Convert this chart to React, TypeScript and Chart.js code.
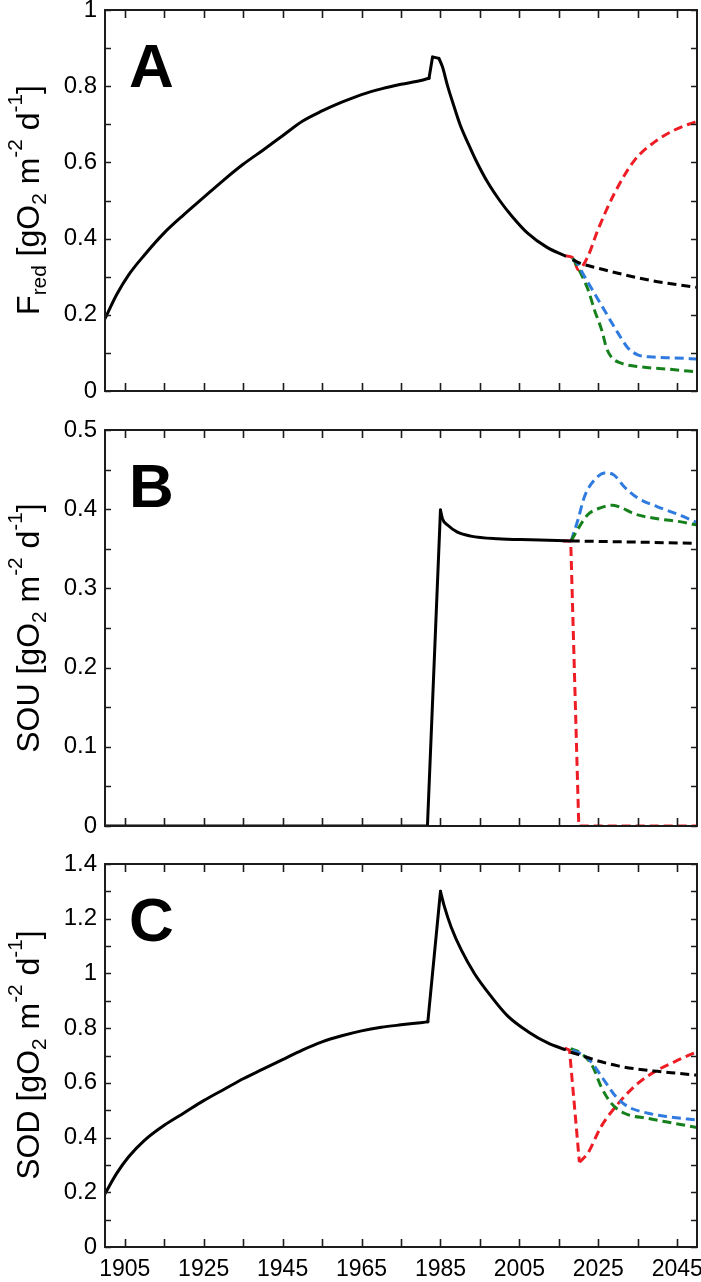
import React, { useEffect, useRef } from "react";
import { Chart, registerables } from "chart.js";

Chart.register(...registerables);

const FONT = "'Liberation Sans', Arial, Helvetica, sans-serif";

// ---------- shared x axis ----------
const X_MIN = 1900;
const X_MAX = 2050;
const xTickYears = [1905, 1915, 1925, 1935, 1945, 1955, 1965, 1975, 1985, 1995, 2005, 2015, 2025, 2035, 2045];
const xLabelYears = [1905, 1925, 1945, 1965, 1985, 2005, 2025, 2045];

// ---------- panel A : F_red ----------
const aYTicks = [0, 0.1, 0.2, 0.3, 0.4, 0.5, 0.6, 0.7, 0.8, 0.9, 1];
const aYLabels = [0, 0.2, 0.4, 0.6, 0.8, 1];
const aGrowthYears = [1900, 1903, 1906, 1910, 1915, 1920, 1925, 1930, 1935, 1940, 1945, 1950, 1955, 1960, 1965, 1970, 1975, 1980, 1982.1];
const aGrowth = [0.19, 0.254, 0.305, 0.357, 0.415, 0.463, 0.508, 0.553, 0.595, 0.632, 0.67, 0.708, 0.735, 0.758, 0.778, 0.793, 0.805, 0.815, 0.821];
const aPulseYears = [1982.1, 1983, 1984.6];
const aPulse = [0.821, 0.877, 0.873];
const aDecayYears = [1984.6, 1985.5, 1986.8, 1988.4, 1990, 1992, 1994, 1997, 2000, 2003, 2007, 2012, 2016.5];
const aDecay = [0.873, 0.851, 0.801, 0.748, 0.698, 0.65, 0.605, 0.547, 0.5, 0.46, 0.415, 0.377, 0.355];
const aBaseYears = [2018.5, 2020, 2025, 2030, 2035, 2040, 2045, 2050];
const aBase = [0.345, 0.337, 0.322, 0.309, 0.297, 0.287, 0.279, 0.272];
const aRedYears = [2016.5, 2018.6, 2019.9, 2022.3, 2024.9, 2029.1, 2034.2, 2039.3, 2044.3, 2050];
const aRed = [0.355, 0.349, 0.318, 0.352, 0.423, 0.519, 0.606, 0.654, 0.685, 0.708];
const aBlueYears = [2018.5, 2019.5, 2021, 2022.5, 2025, 2027.5, 2030, 2032.5, 2035, 2039, 2044, 2050];
const aBlue = [0.345, 0.338, 0.31, 0.283, 0.239, 0.195, 0.152, 0.113, 0.095, 0.089, 0.087, 0.084];
const aGreenYears = [2018.5, 2020.5, 2022.5, 2024, 2026, 2027, 2028.3, 2030.8, 2036, 2043, 2050];
const aGreen = [0.349, 0.31, 0.263, 0.213, 0.155, 0.115, 0.089, 0.073, 0.063, 0.057, 0.05];

// ---------- panel B : SOU ----------
const bYTicks = [0, 0.05, 0.1, 0.15, 0.2, 0.25, 0.3, 0.35, 0.4, 0.45, 0.5];
const bYLabels = [0, 0.1, 0.2, 0.3, 0.4, 0.5];
const bZeroYears = [1900, 1981.7];
const bZero = [0, 0];
const bRiseYears = [1981.7, 1985];
const bRise = [0, 0.399];
const bDecayYears = [1985, 1985.5, 1986.8, 1989.3, 1992.7, 1999.5, 2007.9, 2018];
const bDecay = [0.399, 0.388, 0.38, 0.371, 0.366, 0.3626, 0.3613, 0.36];
const bBaseYears = [2018, 2050];
const bBase = [0.36, 0.357];
const bRedYears = [2016, 2018, 2020.05, 2050];
const bRed = [0.36, 0.36, 0, 0];
const bBlueYears = [2018.1, 2019.8, 2021.5, 2024, 2027, 2029, 2031.6, 2035, 2040, 2046, 2050];
const bBlue = [0.36, 0.386, 0.416, 0.437, 0.446, 0.443, 0.428, 0.414, 0.403, 0.392, 0.383];
const bGreenYears = [2018.1, 2020.2, 2022.3, 2025.7, 2028.7, 2030.8, 2034.2, 2040, 2046, 2050];
const bGreen = [0.36, 0.378, 0.393, 0.402, 0.405, 0.402, 0.394, 0.388, 0.384, 0.38];

// ---------- panel C : SOD ----------
const cYTicks = [0, 0.1, 0.2, 0.3, 0.4, 0.5, 0.6, 0.7, 0.8, 0.9, 1, 1.1, 1.2, 1.3, 1.4];
const cYLabels = [0, 0.2, 0.4, 0.6, 0.8, 1, 1.2, 1.4];
const cGrowthYears = [1900, 1903, 1906, 1910, 1915, 1920, 1925, 1930, 1935, 1940, 1945, 1950, 1955, 1960, 1965, 1970, 1975, 1980, 1981.8];
const cGrowth = [0.195, 0.27, 0.33, 0.39, 0.445, 0.49, 0.535, 0.575, 0.615, 0.65, 0.685, 0.72, 0.75, 0.772, 0.79, 0.803, 0.812, 0.82, 0.823];
const cRiseYears = [1981.8, 1985];
const cRise = [0.823, 1.3];
const cDecayYears = [1985, 1986, 1987.7, 1990.3, 1993.6, 1997.9, 2002, 2007.2, 2012.3, 2016.5];
const cDecay = [1.3, 1.244, 1.17, 1.085, 1.0, 0.915, 0.845, 0.787, 0.745, 0.722];
const cBaseYears = [2018, 2020, 2025, 2030, 2035, 2040, 2045, 2050];
const cBase = [0.712, 0.703, 0.68, 0.662, 0.65, 0.642, 0.635, 0.628];
const cRedDropYears = [2016.5, 2017.7, 2020.2];
const cRedDrop = [0.727, 0.72, 0.31];
const cRedRiseYears = [2020.2, 2022.3, 2025.7, 2030.8, 2035, 2039.3, 2044.3, 2050];
const cRedRise = [0.31, 0.342, 0.44, 0.537, 0.598, 0.641, 0.677, 0.714];
const cBlueYears = [2018.5, 2022.3, 2024.4, 2027, 2029.5, 2032.5, 2037.6, 2042.7, 2050];
const cBlue = [0.72, 0.69, 0.653, 0.598, 0.549, 0.513, 0.489, 0.476, 0.464];
const cGreenYears = [2018, 2020.6, 2023.6, 2025.7, 2028.3, 2031.6, 2037.6, 2043.5, 2050];
const cGreen = [0.725, 0.708, 0.659, 0.586, 0.525, 0.489, 0.47, 0.454, 0.437];

// ---------- styles ----------
const RED = "#ee1c24";
const BLUE = "#2f7be0";
const GREEN = "#16801c";
const BLACK = "#000000";

const pts = (xs: number[], ys: number[]) => xs.map((x, i) => ({ x, y: ys[i] }));

const solid = (xs: number[], ys: number[], smooth = true) => ({
  data: pts(xs, ys),
  borderColor: BLACK,
  borderWidth: 3,
  pointRadius: 0,
  fill: false,
  tension: 0,
  cubicInterpolationMode: smooth ? "monotone" : "default",
  borderCapStyle: "round",
  borderJoinStyle: "round",
});

const dashed = (xs: number[], ys: number[], color: string, smooth = true) => ({
  data: pts(xs, ys),
  borderColor: color,
  borderWidth: 3,
  borderDash: [9, 5],
  pointRadius: 0,
  fill: false,
  tension: 0,
  cubicInterpolationMode: smooth ? "monotone" : "default",
  borderCapStyle: "butt",
  borderJoinStyle: "round",
});

type PanelCfg = {
  datasets: any[];
  yMax: number;
  yTicks: number[];
  yLabels: number[];
  letter: string;
  padTop: number;
  xHeight: number;
  showX: boolean;
};

function makeConfig(p: PanelCfg): any {
  const framePlugin = {
    id: "frame" + p.letter,
    afterDraw(chart: any) {
      const { ctx, chartArea } = chart;
      const { left, right, top, bottom } = chartArea;
      const xs = chart.scales.x;
      const ys = chart.scales.y;
      ctx.save();
      ctx.strokeStyle = "#1c1c1c";
      ctx.lineWidth = 1.6;
      ctx.beginPath();
      for (const v of xTickYears) {
        const px = Math.round(xs.getPixelForValue(v)) + 0.5;
        ctx.moveTo(px, bottom);
        ctx.lineTo(px, bottom - 8);
        ctx.moveTo(px, top);
        ctx.lineTo(px, top + 8);
      }
      for (const v of p.yTicks) {
        const py = Math.round(ys.getPixelForValue(v)) + 0.5;
        ctx.moveTo(left, py);
        ctx.lineTo(left + 6, py);
        ctx.moveTo(right, py);
        ctx.lineTo(right - 6, py);
      }
      ctx.stroke();
      ctx.lineWidth = 2;
      ctx.strokeRect(left, top, right - left, bottom - top);
      ctx.fillStyle = "#000";
      ctx.font = "bold 62px " + FONT;
      ctx.textAlign = "left";
      ctx.textBaseline = "alphabetic";
      ctx.fillText(p.letter, left + 24, top + 77);
      ctx.restore();
    },
  };

  return {
    type: "line",
    data: { datasets: p.datasets },
    plugins: [framePlugin],
    options: {
      responsive: false,
      animation: false,
      devicePixelRatio: 1,
      events: [],
      layout: { padding: { top: p.padTop, right: 4, left: 0, bottom: 0 } },
      plugins: { legend: { display: false }, tooltip: { enabled: false }, title: { display: false } },
      scales: {
        x: {
          type: "linear",
          min: X_MIN,
          max: X_MAX,
          grid: { display: false, drawTicks: false },
          border: { display: false },
          ticks: {
            display: p.showX,
            autoSkip: false,
            maxRotation: 0,
            minRotation: 0,
            padding: 9,
            color: "#000",
            font: { family: FONT, size: 23 },
            callback: (v: number) => String(v),
          },
          afterBuildTicks: (s: any) => {
            s.ticks = xLabelYears.map((v) => ({ value: v }));
          },
          afterFit: (s: any) => {
            s.height = p.xHeight;
            s.paddingLeft = 0;
            s.paddingRight = 0;
          },
        },
        y: {
          type: "linear",
          min: 0,
          max: p.yMax,
          grid: { display: false, drawTicks: false },
          border: { display: false },
          ticks: {
            autoSkip: false,
            padding: 8,
            color: "#000",
            font: { family: FONT, size: 24 },
            callback: (v: number) => String(v),
          },
          afterBuildTicks: (s: any) => {
            s.ticks = p.yLabels.map((v) => ({ value: v }));
          },
          afterFit: (s: any) => {
            s.width = 105;
            s.paddingTop = 0;
            s.paddingBottom = 0;
          },
        },
      },
    },
  };
}

const subStyle: React.CSSProperties = { fontSize: "0.65em", position: "relative", top: "0.32em", lineHeight: 0 };
const supStyle: React.CSSProperties = { fontSize: "0.65em", position: "relative", top: "-0.8em", lineHeight: 0 };

function YTitle({ head, headSub, cx, cy }: { head: string; headSub?: string; cx: number; cy: number }) {
  return (
    <div
      style={{
        position: "absolute",
        left: cx,
        top: cy,
        height: 32,
        fontSize: 32,
        lineHeight: "32px",
        fontFamily: FONT,
        whiteSpace: "nowrap",
        color: "#000",
        transform: "translate(-50%, -50%) rotate(-90deg)",
      }}
    >
      {head}
      {headSub ? <span style={subStyle}>{headSub}</span> : null} [gO<span style={subStyle}>2</span> m
      <span style={supStyle}>-2</span> d<span style={supStyle}>-1</span>]
    </div>
  );
}

export default function App() {
  const refA = useRef<HTMLCanvasElement>(null);
  const refB = useRef<HTMLCanvasElement>(null);
  const refC = useRef<HTMLCanvasElement>(null);

  useEffect(() => {
    const charts: Chart[] = [];
    const A = makeConfig({
      datasets: [
        solid(aGrowthYears, aGrowth),
        solid(aPulseYears, aPulse, false),
        solid(aDecayYears, aDecay),
        dashed(aBaseYears, aBase, BLACK),
        dashed(aBlueYears, aBlue, BLUE),
        dashed(aGreenYears, aGreen, GREEN),
        dashed(aRedYears, aRed, RED),
      ],
      yMax: 1,
      yTicks: aYTicks,
      yLabels: aYLabels,
      letter: "A",
      padTop: 10,
      xHeight: 29,
      showX: false,
    });
    const B = makeConfig({
      datasets: [
        solid(bZeroYears, bZero, false),
        solid(bRiseYears, bRise, false),
        solid(bDecayYears, bDecay),
        dashed(bBaseYears, bBase, BLACK),
        dashed(bRedYears, bRed, RED, false),
        dashed(bGreenYears, bGreen, GREEN),
        dashed(bBlueYears, bBlue, BLUE),
      ],
      yMax: 0.5,
      yTicks: bYTicks,
      yLabels: bYLabels,
      letter: "B",
      padTop: 10,
      xHeight: 20,
      showX: false,
    });
    const C = makeConfig({
      datasets: [
        solid(cGrowthYears, cGrowth),
        solid(cRiseYears, cRise, false),
        solid(cDecayYears, cDecay),
        dashed(cBaseYears, cBase, BLACK),
        dashed(cBlueYears, cBlue, BLUE),
        dashed(cGreenYears, cGreen, GREEN),
        dashed(cRedDropYears, cRedDrop, RED, false),
        dashed(cRedRiseYears, cRedRise, RED),
      ],
      yMax: 1.4,
      yTicks: cYTicks,
      yLabels: cYLabels,
      letter: "C",
      padTop: 18,
      xHeight: 35,
      showX: true,
    });
    if (refA.current) charts.push(new Chart(refA.current, A));
    if (refB.current) charts.push(new Chart(refB.current, B));
    if (refC.current) charts.push(new Chart(refC.current, C));
    return () => charts.forEach((c) => c.destroy());
  }, []);

  const canvasStyle = (top: number, h: number): React.CSSProperties => ({
    position: "absolute",
    left: 0,
    top,
    width: 701,
    height: h,
    display: "block",
  });

  return (
    <div style={{ position: "absolute", left: 0, top: 0, width: 701, height: 1282, background: "#fff", overflow: "hidden" }}>
      <canvas ref={refA} width={701} height={420} style={canvasStyle(0, 420)} />
      <canvas ref={refB} width={701} height={426} style={canvasStyle(420, 426)} />
      <canvas ref={refC} width={701} height={436} style={canvasStyle(846, 436)} />
      <YTitle head="F" headSub="red" cx={28} cy={200} />
      <YTitle head="SOU" cx={28} cy={628} />
      <YTitle head="SOD" cx={28} cy={1055} />
    </div>
  );
}
